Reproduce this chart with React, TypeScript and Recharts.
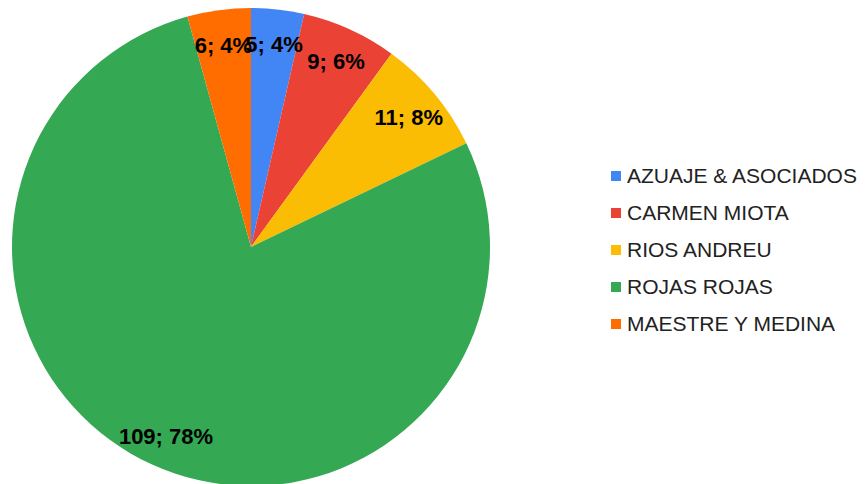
import { PieChart, Pie, Cell, Legend } from "recharts";

const names = ["AZUAJE & ASOCIADOS", "CARMEN MIOTA", "RIOS ANDREU", "ROJAS ROJAS", "MAESTRE Y MEDINA"];
const values = [5, 9, 11, 109, 6];
const COLORS = ["#4285F4", "#EA4335", "#FBBC04", "#34A853", "#FF6D01"];

const data = names.map((name, i) => ({ name, value: values[i] }));

const RAD = Math.PI / 180;

function renderLabel(props: any) {
  const { cx, cy, midAngle, outerRadius, value, percent } = props;
  const r = outerRadius * 0.86;
  const x = cx + r * Math.cos(-midAngle * RAD);
  const y = cy + r * Math.sin(-midAngle * RAD);
  return (
    <text
      x={x}
      y={y + 2}
      fill="#000"
      textAnchor="middle"
      dominantBaseline="central"
      fontFamily="'Liberation Sans', Arial, sans-serif"
      fontWeight="bold"
      fontSize={22}
    >
      {`${value}; ${Math.round(percent * 100)}%`}
    </text>
  );
}

function LegendList() {
  return (
    <div style={{ fontFamily: "'Liberation Sans', Arial, sans-serif", fontSize: 21, color: "#222" }}>
      {data.map((d, i) => (
        <div key={d.name} style={{ display: "flex", alignItems: "center", height: 37 }}>
          <span style={{ width: 10, height: 10, background: COLORS[i], marginRight: 6, display: "inline-block" }} />
          <span>{d.name}</span>
        </div>
      ))}
    </div>
  );
}

export default function App() {
  return (
    <div style={{ position: "absolute", left: 0, top: 0, width: 866, height: 484, background: "#fff" }}>
      <PieChart width={866} height={484} margin={{ top: 0, right: 0, bottom: 0, left: 0 }}>
        <Pie
          data={data}
          dataKey="value"
          nameKey="name"
          cx={251}
          cy={247}
          outerRadius={239}
          startAngle={90}
          endAngle={-270}
          stroke="none"
          label={renderLabel}
          labelLine={false}
          isAnimationActive={false}
        >
          {data.map((_, i) => (
            <Cell key={`cell-${i}`} fill={COLORS[i]} />
          ))}
        </Pie>
        <Legend
          content={() => <LegendList />}
          wrapperStyle={{ position: "absolute", left: 611, top: 157, width: 255 }}
        />
      </PieChart>
    </div>
  );
}
